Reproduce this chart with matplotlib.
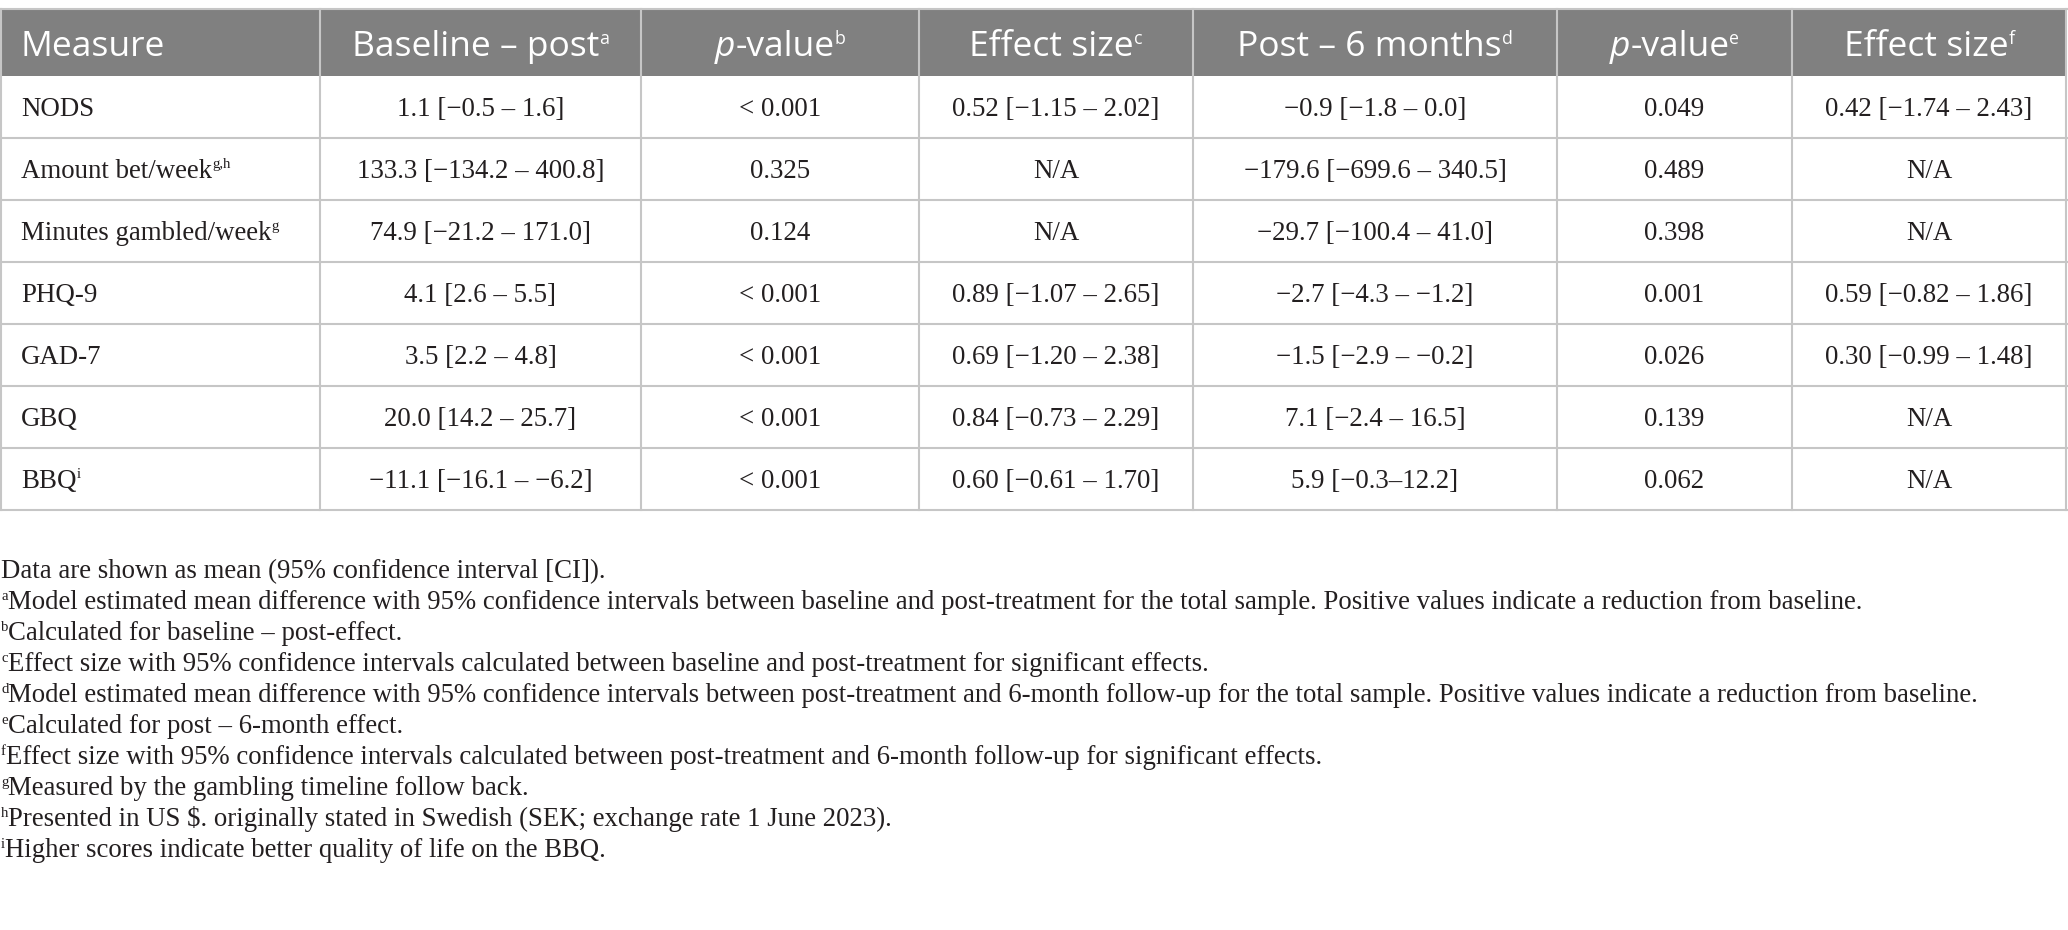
import matplotlib
matplotlib.use("Agg")
import matplotlib.pyplot as plt
from matplotlib.patches import Rectangle

# table content
headers = ["Measure", "Baseline – post", "-value", "Effect size",
           "Post – 6 months", "-value", "Effect size"]
header_sups = ["", "a", "b", "c", "d", "e", "f"]
header_italic_p = [False, False, True, False, False, True, False]

measures = ["NODS", "Amount bet/week", "Minutes gambled/week", "PHQ-9",
            "GAD-7", "GBQ", "BBQ"]
measure_sups = ["", "g,h", "g", "", "", "", "i"]
baseline_post = ["1.1 [−0.5 – 1.6]", "133.3 [−134.2 – 400.8]",
                 "74.9 [−21.2 – 171.0]", "4.1 [2.6 – 5.5]", "3.5 [2.2 – 4.8]",
                 "20.0 [14.2 – 25.7]", "−11.1 [−16.1 – −6.2]"]
p_baseline_post = ["< 0.001", "0.325", "0.124", "< 0.001", "< 0.001",
                   "< 0.001", "< 0.001"]
es_baseline_post = ["0.52 [−1.15 – 2.02]", "N/A", "N/A", "0.89 [−1.07 – 2.65]",
                    "0.69 [−1.20 – 2.38]", "0.84 [−0.73 – 2.29]",
                    "0.60 [−0.61 – 1.70]"]
post_6m = ["−0.9 [−1.8 – 0.0]", "−179.6 [−699.6 – 340.5]",
           "−29.7 [−100.4 – 41.0]", "−2.7 [−4.3 – −1.2]", "−1.5 [−2.9 – −0.2]",
           "7.1 [−2.4 – 16.5]", "5.9 [−0.3–12.2]"]
p_post_6m = ["0.049", "0.489", "0.398", "0.001", "0.026", "0.139", "0.062"]
es_post_6m = ["0.42 [−1.74 – 2.43]", "N/A", "N/A", "0.59 [−0.82 – 1.86]",
              "0.30 [−0.99 – 1.48]", "N/A", "N/A"]

footnote_sups = ["", "a", "b", "c", "d", "e", "f", "g", "h", "i"]
footnotes = [
    "Data are shown as mean (95% confidence interval [CI]).",
    "Model estimated mean difference with 95% confidence intervals between baseline and post-treatment for the total sample. Positive values indicate a reduction from baseline.",
    "Calculated for baseline – post-effect.",
    "Effect size with 95% confidence intervals calculated between baseline and post-treatment for significant effects.",
    "Model estimated mean difference with 95% confidence intervals between post-treatment and 6-month follow-up for the total sample. Positive values indicate a reduction from baseline.",
    "Calculated for post – 6-month effect.",
    "Effect size with 95% confidence intervals calculated between post-treatment and 6-month follow-up for significant effects.",
    "Measured by the gambling timeline follow back.",
    "Presented in US $. originally stated in Swedish (SEK; exchange rate 1 June 2023).",
    "Higher scores indicate better quality of life on the BBQ.",
]

W, H = 2068, 930
fig = plt.figure(figsize=(W / 100, H / 100), dpi=100)
ax = fig.add_axes([0, 0, 1, 1])
ax.set_xlim(0, W)
ax.set_ylim(H, 0)
ax.axis("off")
renderer = fig.canvas.get_renderer()

col_edges = [1, 320, 641, 919, 1193, 1557, 1792, 2066]
head_top, head_bot = 9, 76
row_h = 62
grid = "#c6c6c6"

BODY = dict(family="Liberation Serif", size=19.4, color="#231f20")
HEAD = dict(family="Open Sans", size=25.5, color="white")
FOOT = dict(family="Liberation Serif", size=19.3, color="#231f20")


def place_runs(runs, x, y, ha="left"):
    """runs: list of (text, style dict, raise in px)."""
    texts = []
    for s, kw, up in runs:
        t = ax.text(0, y - up, s, va="baseline", ha="left", **kw)
        texts.append(t)
    widths = [t.get_window_extent(renderer).width for t in texts]
    start = x - sum(widths) / 2 if ha == "center" else x
    for t, w in zip(texts, widths):
        t.set_x(start)
        start += w


def sup_style(base, f=0.58):
    kw = dict(base)
    kw["size"] = base["size"] * f
    return kw


# header band
ax.add_patch(Rectangle((0, head_top), W - 1, head_bot - head_top,
                       facecolor="#808080", edgecolor="none"))
ax.plot([0, W - 1], [head_top, head_top], color=grid, lw=1.5)

n_rows = len(measures)
table_bot = head_bot + n_rows * row_h
for i in range(1, n_rows + 1):
    yy = head_bot + i * row_h
    ax.plot([0, W - 1], [yy, yy], color=grid, lw=1.5)
for xe in col_edges:
    ax.plot([xe, xe], [head_top, table_bot], color=grid, lw=1.5)

# header text
head_base = (head_top + head_bot) / 2 + 13
for j, h in enumerate(headers):
    runs = []
    if header_italic_p[j]:
        runs.append(("p", dict(HEAD, style="italic"), 0))
    runs.append((h, HEAD, 0))
    if header_sups[j]:
        runs.append((header_sups[j], sup_style(HEAD, 0.5), 12))
    if j == 0:
        place_runs(runs, 21, head_base)
    else:
        place_runs(runs, (col_edges[j] + col_edges[j + 1]) / 2, head_base, "center")

# body rows
columns = [baseline_post, p_baseline_post, es_baseline_post,
           post_6m, p_post_6m, es_post_6m]
for i, m in enumerate(measures):
    base = head_bot + i * row_h + row_h / 2 + 9
    runs = [(m, BODY, 0)]
    if measure_sups[i]:
        runs.append((measure_sups[i], sup_style(BODY, 0.55), 10))
    place_runs(runs, 21, base)
    for j, col in enumerate(columns):
        cx = (col_edges[j + 1] + col_edges[j + 2]) / 2
        place_runs([(col[i], BODY, 0)], cx, base, "center")

# footnotes
foot_y0 = 578
foot_gap = 31
for k, note in enumerate(footnotes):
    y = foot_y0 + k * foot_gap
    runs = []
    if footnote_sups[k]:
        runs.append((footnote_sups[k], sup_style(FOOT, 0.55), 9))
    runs.append((note, FOOT, 0))
    place_runs(runs, 1, y)

fig.savefig("out.png", dpi=100, facecolor="white")
